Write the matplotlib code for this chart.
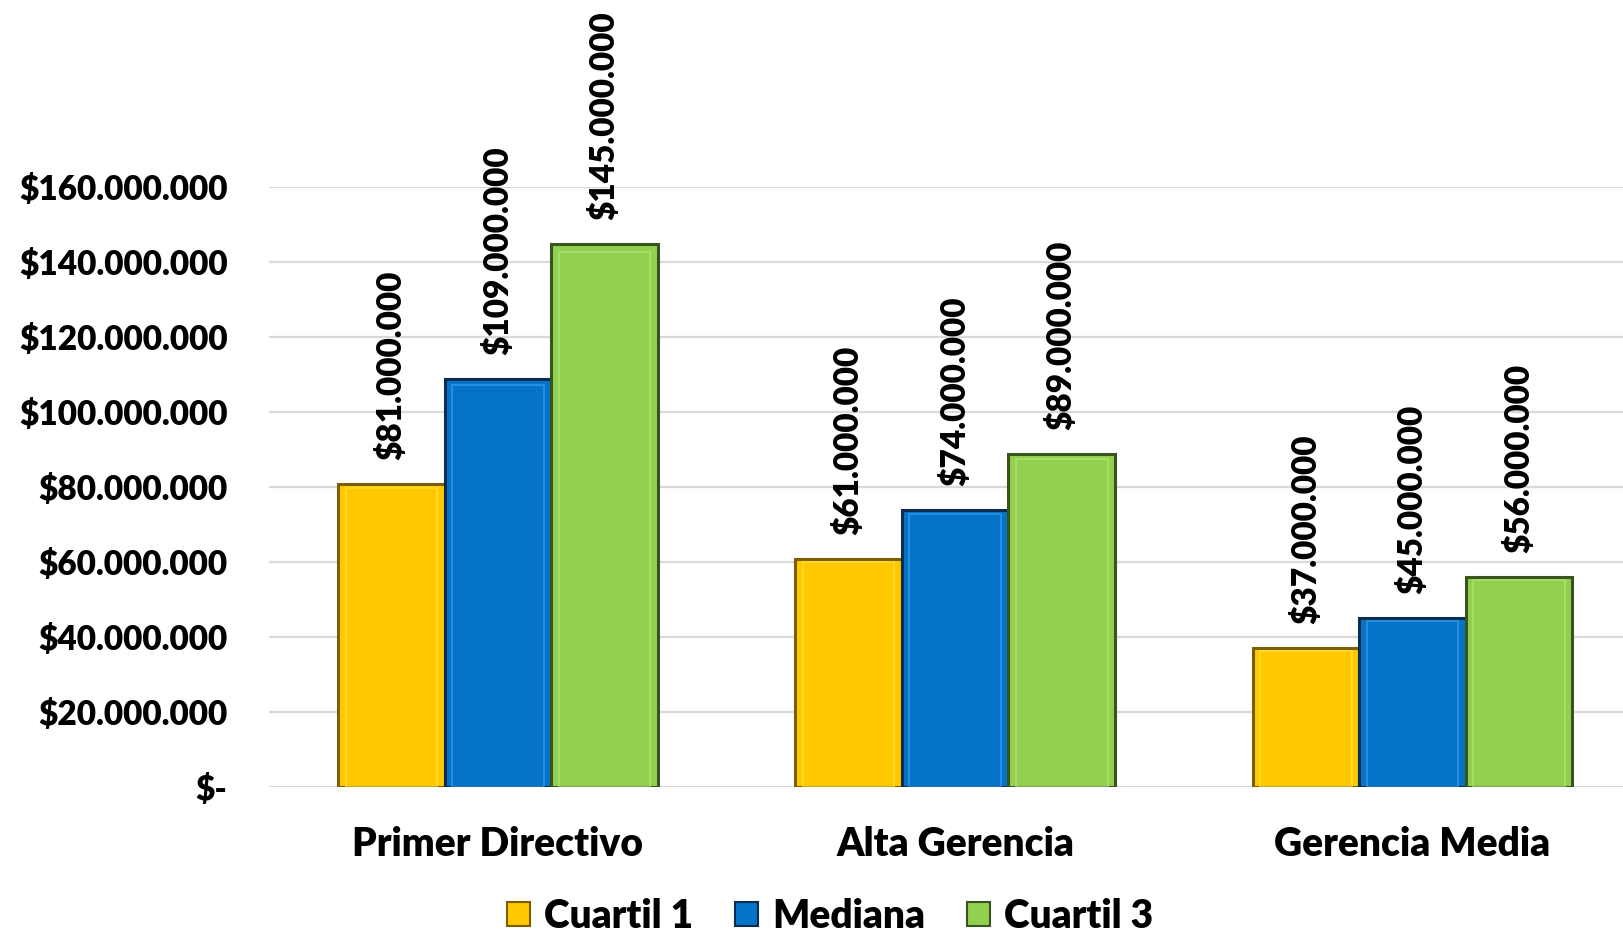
import matplotlib
matplotlib.use("Agg")
import matplotlib.pyplot as plt
import numpy as np
from matplotlib.patches import Patch

categories = ["Primer Directivo", "Alta Gerencia", "Gerencia Media"]
series_names = ["Cuartil 1", "Mediana", "Cuartil 3"]
cuartil1 = [81000000, 61000000, 37000000]
mediana = [109000000, 74000000, 45000000]
cuartil3 = [145000000, 89000000, 56000000]
yticks = [0, 20000000, 40000000, 60000000, 80000000, 100000000, 120000000, 140000000, 160000000]

colors = ["#FFC800", "#0574C8", "#92D050"]
edges = ["#7A5E00", "#0B2E4F", "#3A5420"]
highlights = ["#FFE24D", "#3FA2EE", "#B5E67A"]

FONT = "Lato"
WEIGHT = "heavy"

def money(v):
    if v == 0:
        return "$-"
    return "$" + f"{int(v):,}".replace(",", ".")

fig = plt.figure(figsize=(16.24, 9.32), dpi=100)
ax = fig.add_axes([0.1658, 0.1554, 0.8447, 0.6435])

x = np.arange(len(categories))
w = 0.233
offsets = [-w, 0, w]
data = [cuartil1, mediana, cuartil3]

for i, (vals, off) in enumerate(zip(data, offsets)):
    ax.bar(x + off, vals, width=w, color=colors[i], edgecolor=edges[i],
           linewidth=2.2, zorder=3)
    # bevel highlight (inner outline)
    ax.bar(x + off, [v * 0.985 for v in vals], width=w * 0.86,
           color="none", edgecolor=highlights[i], linewidth=1.4, alpha=0.6, zorder=4)
    for xi, v in zip(x + off, vals):
        ax.annotate(money(v), (xi, v), xytext=(0, 24), textcoords="offset pixels",
                    rotation=90, ha="center", va="bottom", fontsize=24,
                    fontweight=WEIGHT, family=FONT, color="#000000",
                    annotation_clip=False)

ax.set_xlim(-0.5, 2.5)
ax.set_ylim(0, 160000000)
ax.set_yticks(yticks)
ax.set_yticklabels([money(v) for v in yticks], fontsize=24, fontweight=WEIGHT, family=FONT)
ax.yaxis.grid(True, color="#D9D9D9", linewidth=1.6, zorder=0)
ax.set_axisbelow(True)
ax.tick_params(axis="y", length=0, pad=30)
ax.tick_params(axis="x", length=0, pad=28)
ax.set_xticks(x)
ax.set_xticklabels(categories, fontsize=28, fontweight=WEIGHT, family=FONT)
for s in ax.spines.values():
    s.set_visible(False)

handles = [Patch(facecolor=colors[i], edgecolor=edges[i], linewidth=1.5, label=series_names[i])
           for i in range(3)]
fig.legend(handles=handles, loc="center", bbox_to_anchor=(0.511, 0.017), ncol=3,
           frameon=False, prop={"family": FONT, "weight": WEIGHT, "size": 28},
           handlelength=0.6, handleheight=0.6, handletextpad=0.35, columnspacing=1.08)

fig.savefig("out.png", dpi=100, facecolor="white")
